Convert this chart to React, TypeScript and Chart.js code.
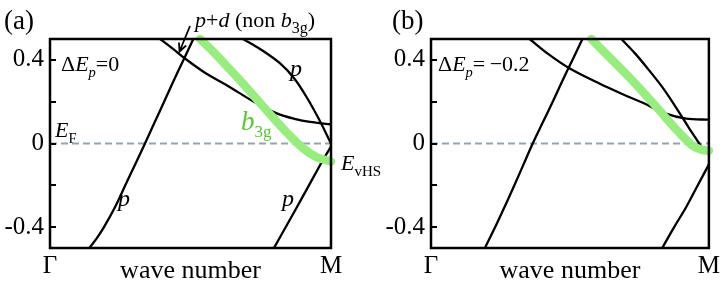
import React, { useEffect, useRef } from 'react';
import { Chart, registerables } from 'chart.js';
Chart.register(...registerables);

const FONT = '"Liberation Serif", "Times New Roman", serif';

// axis ticks
const yTicks = [-0.4, -0.2, 0, 0.2, 0.4];
const yTickLabels = ['-0.4', '', '0', '', '0.4'];
const xTicks = [0, 1];
const xTickLabels = ['\u0393', 'M'];
const xTitle = 'wave number';

// Fermi level
const EF_k = [0, 1];
const EF_E = [0, 0];

// ---------- panel (a): dEp = 0 ----------
const A_pLow_k = [0.140, 0.168, 0.192, 0.233, 0.268, 0.303, 0.338, 0.372, 0.406, 0.440, 0.475, 0.510];
const A_pLow_E = [-0.5, -0.45, -0.4, -0.3, -0.2, -0.1, 0.0, 0.1, 0.2, 0.3, 0.4, 0.5];
const A_pd_k = [0.392, 0.44, 0.48, 0.55, 0.629, 0.735, 0.807, 0.87, 0.925, 1.0];
const A_pd_E = [0.5, 0.45, 0.407, 0.34, 0.279, 0.192, 0.144, 0.118, 0.103, 0.092];
const A_pUp_k = [0.687, 0.75, 0.819, 0.87, 0.914, 0.96, 1.0];
const A_pUp_E = [0.5, 0.45, 0.383, 0.31, 0.22, 0.109, 0.0];
const A_pR_k = [0.797, 0.845, 0.893, 0.94, 0.975, 1.0];
const A_pR_E = [-0.5, -0.385, -0.27, -0.155, -0.07, -0.015];
const A_b3g_k = [0.534, 0.58, 0.635, 0.69, 0.74, 0.79, 0.843, 0.9, 0.95, 1.0];
const A_b3g_E = [0.5, 0.44, 0.362, 0.282, 0.205, 0.13, 0.052, -0.022, -0.066, -0.086];

// ---------- panel (b): dEp = -0.2 ----------
const B_pLow_k = [0.194, 0.231, 0.266, 0.300, 0.333, 0.366, 0.402, 0.438, 0.473, 0.509, 0.545];
const B_pLow_E = [-0.5, -0.4, -0.3, -0.2, -0.1, 0.0, 0.1, 0.2, 0.3, 0.4, 0.5];
const B_pd_k = [0.355, 0.42, 0.498, 0.606, 0.69, 0.76, 0.846, 0.918, 1.0];
const B_pd_E = [0.5, 0.43, 0.36, 0.287, 0.236, 0.196, 0.143, 0.119, 0.114];
const B_pUp_k = [0.685, 0.735, 0.785, 0.835, 0.882, 0.928, 0.964, 0.98];
const B_pUp_E = [0.5, 0.43, 0.35, 0.265, 0.172, 0.075, 0.003, -0.03];
const B_pR_k = [0.832, 0.875, 0.918, 0.96, 1.0];
const B_pR_E = [-0.5, -0.4, -0.305, -0.2, -0.1];
const B_b3g_k = [0.577, 0.65, 0.724, 0.81, 0.882, 0.939, 0.97, 1.0];
const B_b3g_E = [0.5, 0.402, 0.302, 0.177, 0.068, -0.008, -0.028, -0.035];

const GREEN_LINE = '#97ee7f';
const GREEN_TEXT = '#5cc633';
const DASH = '#98a4ad';

type Seg = { t: string; it?: boolean; sub?: boolean; color?: string; size?: number };
type Ann = { x: number; y: number; size: number; segs: Seg[]; color?: string };

function drawRich(ctx: CanvasRenderingContext2D, a: Ann) {
  let cx = a.x;
  for (const s of a.segs) {
    const fs = s.size ?? (s.sub ? a.size * 0.66 : a.size);
    ctx.font = `${s.it ? 'italic ' : ''}${fs}px ${FONT}`;
    ctx.fillStyle = s.color || a.color || '#000';
    ctx.textBaseline = 'alphabetic';
    ctx.textAlign = 'left';
    ctx.fillText(s.t, cx, s.sub ? a.y + a.size * 0.27 : a.y);
    cx += ctx.measureText(s.t).width;
  }
}

const annA: Ann[] = [
  { x: 4, y: 29, size: 27, segs: [{ t: '(a)' }] },
  { x: 61, y: 71, size: 22, segs: [{ t: '\u0394' }, { t: 'E', it: true }, { t: 'p', it: true, sub: true }, { t: '=0' }] },
  { x: 55, y: 137, size: 22, segs: [{ t: 'E', it: true }, { t: 'F', sub: true }] },
  { x: 118, y: 206, size: 24, segs: [{ t: 'p', it: true }] },
  { x: 290, y: 76, size: 24, segs: [{ t: 'p', it: true }] },
  { x: 282, y: 206, size: 24, segs: [{ t: 'p', it: true }] },
  { x: 241, y: 130, size: 27, color: GREEN_TEXT, segs: [{ t: 'b', it: true }, { t: '3g', sub: true, size: 17 }] },
  { x: 341, y: 170, size: 22, segs: [{ t: 'E', it: true }, { t: 'vHS', sub: true, size: 15 }] },
  { x: 195, y: 27, size: 22, segs: [{ t: 'p', it: true }, { t: '+' }, { t: 'd', it: true }, { t: ' (non ' }, { t: 'b', it: true }, { t: '3g', sub: true, size: 16 }, { t: ')' }] },
];

const annB: Ann[] = [
  { x: 30, y: 29, size: 27, segs: [{ t: '(b)' }] },
  { x: 76, y: 71, size: 22, segs: [{ t: '\u0394' }, { t: 'E', it: true }, { t: 'p', it: true, sub: true }, { t: '=\u2009\u22120.2' }] },
];

const arrowA = { from: [190, 26], to: [179.5, 51.5] };

function makeDecoPlugin(anns: Ann[], arrow?: { from: number[]; to: number[] }) {
  return {
    id: 'deco',
    afterDatasetsDraw(chart: any) {
      const { ctx, chartArea: ca, scales } = chart;
      ctx.save();
      // frame
      ctx.strokeStyle = '#000';
      ctx.lineWidth = 2.5;
      ctx.strokeRect(ca.left, ca.top, ca.right - ca.left, ca.bottom - ca.top);
      // inner ticks on the left
      ctx.beginPath();
      for (const v of yTicks) {
        const py = Math.round(scales.y.getPixelForValue(v));
        ctx.moveTo(ca.left - 1, py);
        ctx.lineTo(ca.left + 6, py);
      }
      ctx.lineWidth = 1.8;
      ctx.stroke();
      // arrow
      if (arrow) {
        const [x1, y1] = arrow.from;
        const [x2, y2] = arrow.to;
        ctx.beginPath();
        ctx.moveTo(x1, y1);
        ctx.lineTo(x2, y2);
        const ang = Math.atan2(y2 - y1, x2 - x1);
        const hl = 9;
        const spread = 0.45;
        ctx.moveTo(x2 - hl * Math.cos(ang - spread), y2 - hl * Math.sin(ang - spread));
        ctx.lineTo(x2, y2);
        ctx.lineTo(x2 - hl * Math.cos(ang + spread), y2 - hl * Math.sin(ang + spread));
        ctx.lineWidth = 1.8;
        ctx.stroke();
      }
      ctx.restore();
      ctx.save();
      for (const a of anns) drawRich(ctx, a);
      ctx.restore();
    },
  };
}

function ds(k: number[], E: number[], extra: any = {}) {
  return {
    data: k.map((x, i) => ({ x, y: E[i] })),
    borderColor: '#000',
    borderWidth: 2.3,
    pointRadius: 0,
    fill: false,
    tension: 0.35,
    ...extra,
  };
}

function makeConfig(p: {
  sets: { k: number[]; E: number[]; green?: boolean }[];
  yWidth: number;
  padRight: number;
  anns: Ann[];
  arrow?: { from: number[]; to: number[] };
}) {
  const datasets: any[] = [];
  for (const s of p.sets.filter((s) => s.green)) {
    datasets.push(ds(s.k, s.E, { borderColor: GREEN_LINE, borderWidth: 8.5, borderCapStyle: 'round', borderJoinStyle: 'round', clip: false }));
  }
  for (const s of p.sets.filter((s) => !s.green)) datasets.push(ds(s.k, s.E));
  datasets.push(ds(EF_k, EF_E, { borderColor: DASH, borderWidth: 1.8, borderDash: [7, 4], tension: 0 }));

  return {
    type: 'line',
    data: { datasets },
    options: {
      animation: false,
      responsive: false,
      devicePixelRatio: 1,
      layout: { padding: { left: 0, right: p.padRight, top: 39, bottom: 0 } },
      plugins: { legend: { display: false }, tooltip: { enabled: false } },
      scales: {
        x: {
          type: 'linear',
          min: 0,
          max: 1,
          afterBuildTicks: (s: any) => { s.ticks = xTicks.map((v) => ({ value: v })); },
          afterFit: (s: any) => { s.height = 41; },
          ticks: {
            callback: (v: number) => xTickLabels[xTicks.indexOf(v)] ?? '',
            font: { family: FONT, size: 25, lineHeight: 1.2 },
            color: '#000',
            padding: 3,
            maxRotation: 0,
            autoSkip: false,
          },
          grid: { display: false, drawTicks: false },
          border: { display: false },
          title: { display: true, text: xTitle, color: '#000', font: { family: FONT, size: 26, lineHeight: 1.2 }, padding: { top: 0, bottom: 2 } },
        },
        y: {
          type: 'linear',
          min: -0.5,
          max: 0.5,
          afterBuildTicks: (s: any) => { s.ticks = yTicks.map((v) => ({ value: v })); },
          afterFit: (s: any) => { s.width = p.yWidth; },
          ticks: {
            callback: (v: number) => yTickLabels[yTicks.indexOf(v)] ?? '',
            font: { family: FONT, size: 25 },
            color: '#000',
            padding: 6,
            autoSkip: false,
          },
          grid: { display: false, drawTicks: false },
          border: { display: false },
        },
      },
    },
    plugins: [makeDecoPlugin(p.anns, p.arrow)],
  } as any;
}

const panelA = {
  sets: [
    { k: A_b3g_k, E: A_b3g_E, green: true },
    { k: A_pLow_k, E: A_pLow_E },
    { k: A_pd_k, E: A_pd_E },
    { k: A_pUp_k, E: A_pUp_E },
    { k: A_pR_k, E: A_pR_E },
  ],
  yWidth: 50,
  padRight: 59,
  anns: annA,
  arrow: arrowA,
};

const panelB = {
  sets: [
    { k: B_b3g_k, E: B_b3g_E, green: true },
    { k: B_pLow_k, E: B_pLow_E },
    { k: B_pd_k, E: B_pd_E },
    { k: B_pUp_k, E: B_pUp_E },
    { k: B_pR_k, E: B_pR_E },
  ],
  yWidth: 69,
  padRight: 13,
  anns: annB,
};

function Panel({ left, width, cfg }: { left: number; width: number; cfg: any }) {
  const ref = useRef<HTMLCanvasElement>(null);
  useEffect(() => {
    const chart = new Chart(ref.current as HTMLCanvasElement, makeConfig(cfg));
    return () => chart.destroy();
  }, [cfg]);
  return (
    <canvas
      ref={ref}
      width={width}
      height={289}
      style={{ position: 'absolute', left, top: 0, width, height: 289 }}
    />
  );
}

export default function App() {
  return (
    <div style={{ position: 'fixed', left: 0, top: 0, width: 723, height: 289, background: '#fff', overflow: 'hidden' }}>
      <Panel left={0} width={390} cfg={panelA} />
      <Panel left={362} width={361} cfg={panelB} />
    </div>
  );
}
